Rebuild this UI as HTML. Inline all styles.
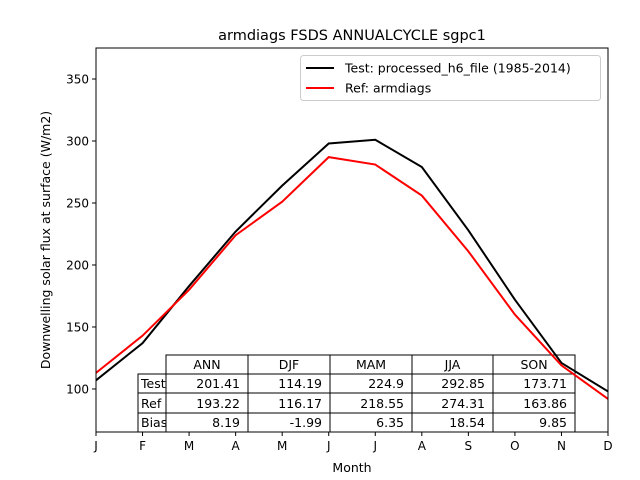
<!DOCTYPE html>
<html><head><meta charset="utf-8"><style>body{margin:0;background:#fff}svg{display:block;font-family:"DejaVu Sans","Liberation Sans",sans-serif}</style></head>
<body>
<svg id="c" width="640" height="480">
<defs><clipPath id="lc"><rect x="138" y="374" width="28" height="58"/></clipPath></defs>
<rect width="640" height="480" fill="#fff"/>
<text x="352" y="40" text-anchor="middle" font-size="14.5">armdiags FSDS ANNUALCYCLE sgpc1</text>
<g id="plot"></g>
<text x="352" y="472" text-anchor="middle" font-size="12.5">Month</text>
<text transform="translate(50,240) rotate(-90)" text-anchor="middle" font-size="12.5">Downwelling solar flux at surface (W/m2)</text>
</svg>
<script>
const months=["J","F","M","A","M","J","J","A","S","O","N","D"];
const testVals=[107,137,183,227,264,298,301,279,228,172,121,98];
const refVals=[113,143,180,224,251,287,281,256,211,160,119,92];
const yTicks=[100,150,200,250,300,350];
const tableCols=["ANN","DJF","MAM","JJA","SON"];
const tableRows=["Test","Ref","Bias"];
const testStats=["201.41","114.19","224.9","292.85","173.71"];
const refStats=["193.22","116.17","218.55","274.31","163.86"];
const biasStats=["8.19","-1.99","6.35","18.54","9.85"];
const L=96,R=608,T=48,B=432,yMin=65.3,yMax=375;
const xs=i=>L+i*(R-L)/(months.length-1);
const ys=v=>B-(v-yMin)/(yMax-yMin)*(B-T);
const NS="http://www.w3.org/2000/svg";
const g=document.getElementById('plot');
function mk(t,a,p){const e=document.createElementNS(NS,t);for(const k in a)e.setAttribute(k,a[k]);(p||g).appendChild(e);return e;}
months.forEach((m,i)=>{
 const tk=mk('line',{x1:xs(i),x2:xs(i),y1:B,y2:B+4,stroke:'#000'});
 
 
 const t=mk('text',{x:xs(i),y:B+18,'text-anchor':'middle','font-size':'12'});t.textContent=m;
 
 
});
yTicks.forEach(v=>{
 const tk=mk('line',{x1:L-4,x2:L,y1:ys(v),y2:ys(v),stroke:'#000'});
 
 
 const t=mk('text',{x:L-7,y:ys(v)+4.5,'text-anchor':'end','font-size':'12'});t.textContent=v;
 
 
});
// table (under lines)
const colX=[166,248,330,412,493,575],rowY=[355,374,393,413,432];
const tb=mk('g',{});


tableCols.forEach((c,j)=>{
 mk('rect',{x:colX[j],y:rowY[0],width:colX[j+1]-colX[j],height:rowY[1]-rowY[0],fill:'#fff',stroke:'#000'},tb);
 const t=mk('text',{x:(colX[j]+colX[j+1])/2,y:rowY[1]-5,'text-anchor':'middle','font-size':'12.5'},tb);t.textContent=c;
 
 
});
const stats=[testStats,refStats,biasStats];
tableRows.forEach((r,i)=>{
 const y0=rowY[i+1],y1=rowY[i+2];
 mk('rect',{x:138,y:y0,width:28,height:y1-y0,fill:'#fff',stroke:'#000'},tb);
 const t=mk('text',{x:141,y:y1-5,'font-size':'12.5','clip-path':'url(#lc)'},tb);t.textContent=r;
 
 
 stats[i].forEach((s,j)=>{
  mk('rect',{x:colX[j],y:y0,width:colX[j+1]-colX[j],height:y1-y0,fill:'#fff',stroke:'#000'},tb);
  const c=mk('text',{x:colX[j+1]-8,y:y1-5,'text-anchor':'end','font-size':'12.5'},tb);c.textContent=s;
  
  
 });
});
function line(vals,col,name){
 const p=mk('polyline',{points:vals.map((v,i)=>xs(i)+','+ys(v)).join(' '),fill:'none',stroke:col,'stroke-width':2});
 
 
}
line(testVals,'#000','test-series-line');
line(refVals,'#f00','ref-series-line');
const fr=mk('rect',{x:L,y:T,width:R-L,height:B-T,fill:'none',stroke:'#000','stroke-width':1});


const lg=mk('g',{});


mk('rect',{x:300.5,y:55.5,width:300,height:45,rx:3,fill:'#fff',stroke:'#ccc'},lg);
mk('line',{x1:306,x2:334,y1:68,y2:68,stroke:'#000','stroke-width':2},lg);
mk('line',{x1:306,x2:334,y1:88,y2:88,stroke:'#f00','stroke-width':2},lg);
const l1=mk('text',{x:345,y:72.5,'font-size':'12.5'},lg);l1.textContent='Test: processed_h6_file (1985-2014)';


const l2=mk('text',{x:345,y:92.5,'font-size':'12.5'},lg);l2.textContent='Ref: armdiags';


</script>
</body></html>
